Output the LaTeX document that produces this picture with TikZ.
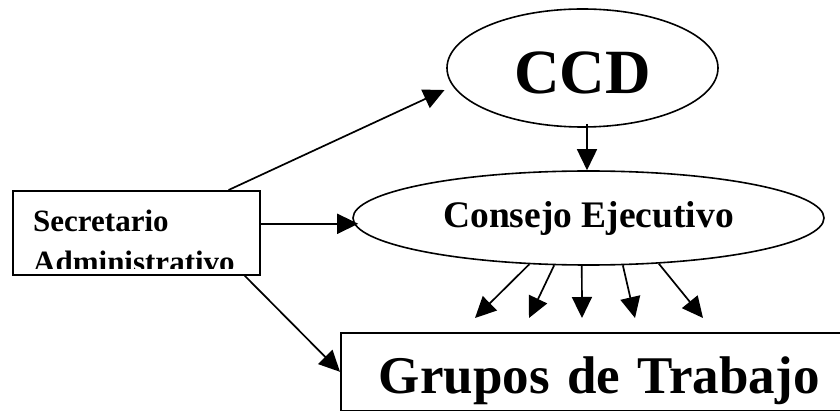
\documentclass[tikz,border=0pt]{standalone}
\usepackage{fontspec}
\setmainfont{Liberation Serif}
\usetikzlibrary{shapes.geometric,arrows.meta,calc}
\begin{document}
\begin{tikzpicture}[x=1pt,y=-1pt,
  arr/.style={line width=1.7pt,-{Triangle[length=21pt,width=20pt]}},
  shp/.style={draw,line width=1.6pt,inner sep=0pt}]
\useasboundingbox (0,0) rectangle (840,411);
\clip (0,0) rectangle (840,411);
% nodes
\node[shp,ellipse,minimum width=271pt,minimum height=118pt,
  font={\fontsize{63}{70}\selectfont\bfseries},text height=51pt,text depth=0pt]
  (ccd) at (582.5,68) {CCD};
\node[shp,ellipse,minimum width=471pt,minimum height=94pt,
  font={\fontsize{37.5}{44}\selectfont\bfseries},text height=28pt,text depth=8pt]
  (ce) at (588.5,218) {Consejo Ejecutivo};
\node[shp,rectangle,anchor=north west,minimum width=247pt,minimum height=84pt]
  (sa) at (12,190) {};
\begin{scope}
  \clip (sa.north west) rectangle ([yshift=7pt]sa.south east);
  \node[anchor=base west,inner sep=0pt,font={\fontsize{31}{41}\selectfont\bfseries}]
    (sa1) at (33,232) {Secretario};
  \node[anchor=base west,inner sep=0pt,font={\fontsize{31}{41}\selectfont\bfseries}]
    (sa2) at (33,273) {Administrativo};
\end{scope}
\node[shp,rectangle,anchor=north west,minimum height=78pt,text width=472pt,
  inner xsep=38pt,inner ysep=0pt,align=left,
  font={\fontsize{53}{60}\selectfont\bfseries},text height=50pt,text depth=6pt]
  (gt) at (340,332) {Grupos de Trabajo};
% free ends of the fan arrows
\coordinate (t1) at (475,318);
\coordinate (t2) at (529,318);
\coordinate (t3) at (582,318);
\coordinate (t4) at (635,318);
\coordinate (t5) at (703,318);
% connectors
\draw[arr,shorten >=9pt] ([xshift=-32pt]sa.north east) -- (ccd.188);
\draw[arr,shorten >=-6pt] ([yshift=9pt]sa.east) -- ([yshift=9pt]sa.east -| ce.west);
\draw[arr] ([xshift=-16pt]sa.south east) -- (gt.west);
\draw[arr] ([xshift=4.5pt,yshift=4pt]ccd.south) -- ([xshift=4.5pt]ccd.south |- ce.north);
\draw[arr] (ce.218) -- (t1);
\draw[arr] (ce.234.5) -- (t2);
\draw[arr] (ce.262) -- (t3);
\draw[arr] (ce.306.3) -- (t4);
\draw[arr] (ce.327.8) -- (t5);
\end{tikzpicture}
\end{document}
